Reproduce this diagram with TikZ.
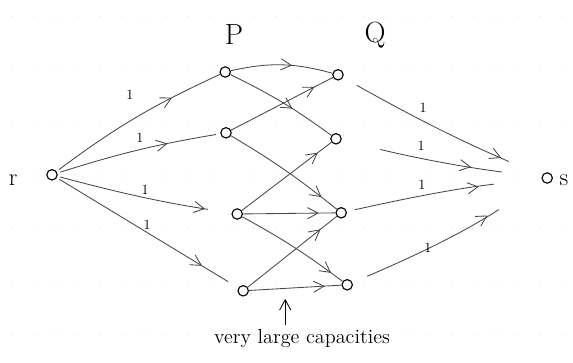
\documentclass[tikz,border=0pt]{standalone}
\usepackage{tikz}
\usetikzlibrary{arrows.meta,decorations.markings}
\definecolor{pencil}{RGB}{70,70,70}
\definecolor{paperdot}{RGB}{175,175,175}
\tikzset{
  vtx/.style={circle, draw=black, thick, inner sep=0pt, minimum size=2.6mm},
  side/.style={font=\LARGE, inner sep=1pt},
  layer/.style={font=\huge, inner sep=1pt},
  capnum/.style={font=\normalsize, inner sep=1pt},
  wire/.style={draw=pencil, semithick},
  tipat/.style={postaction={decorate}, decoration={markings,
      mark=at position #1 with {\arrow{Straight Barb[length=2.6mm,width=2.8mm]}}}},
}

\begin{document}
\begin{tikzpicture}
    \useasboundingbox (0,0) rectangle (14.325,9.05);
    % --- the dotted notebook paper ---
    \foreach \y in {0.68,2.0,3.33,4.65,5.98,7.3,8.63}
      \foreach \x in {0.3,0.85,...,14.2}
        \fill[paperdot] (\x,\y) circle (0.25pt);
    % --- source, sink and the two layers ---
    \node[vtx] (r) at (1.30,4.68) {};
    \node[side] (rlab) at (0.33,4.55) {r};
    \node[vtx] (s) at (13.68,4.60) {};
    \node[side] (slab) at (14.10,4.55) {s};
    \node[layer] (plab) at (5.85,8.18) {P};
    \node[layer] (qlab) at (9.38,8.18) {Q};
    \node[vtx] (p1) at (5.63,7.25) {};
    \node[vtx] (p2) at (5.65,5.73) {};
    \node[vtx] (p3) at (5.93,3.70) {};
    \node[vtx] (p4) at (6.08,1.78) {};
    \node[vtx] (q1) at (8.45,7.18) {};
    \node[vtx] (q2) at (8.40,5.58) {};
    \node[vtx] (q3) at (8.53,3.73) {};
    \node[vtx] (q4) at (8.68,1.93) {};
    % --- r into P, capacity 1 ---
    \draw[wire,tipat=0.72,shorten <=2pt] (r) to[bend left=6] (p1);
    \draw[wire,tipat=0.68,shorten <=2pt,shorten >=3pt] (r) to[bend left=4] (p2);
    \draw[wire,tipat=0.85,shorten <=2pt,shorten >=0.6cm] (r) to[bend right=3] (p3);
    \draw[wire,tipat=0.8,shorten <=2pt,shorten >=0.3cm] (r) to (p4);
    \node[capnum] (c1) at (3.25,6.68) {1};
    \node[capnum] (c2) at (3.50,5.60) {1};
    \node[capnum] (c3) at (3.63,4.30) {1};
    \node[capnum] (c4) at (3.68,3.43) {1};
    % --- P into Q ---
    \draw[wire,tipat=0.6] (p1) to[bend left=14] (q1);
    \draw[wire,tipat=0.6] (p1) to[bend left=5] (q2);
    \draw[wire,tipat=0.82] (p2) -- (q1);
    \draw[wire,tipat=0.85] (p2) to[bend left=4] (q3);
    \draw[wire,tipat=0.85] (p3) -- (q2);
    \draw[wire,tipat=0.82] (p3) -- (q3);
    \draw[wire,tipat=0.88] (p3) to[bend left=4] (q4);
    \draw[wire,tipat=0.82] (p4) -- (q3);
    \draw[wire,tipat=0.82] (p4) -- (q4);
    % --- Q into s, capacity 1 ---
    \draw[wire,tipat=0.8,shorten <=0.4cm,shorten >=0.9cm] (q1) to[bend right=3] (s);
    \draw[wire,tipat=0.65,shorten <=1.0cm,shorten >=1.0cm] (q2) to[bend right=3] (s);
    \draw[wire,tipat=0.68,shorten <=0.2cm,shorten >=1.2cm] (q3) to[bend left=3] (s);
    \draw[wire,tipat=0.7,shorten <=0.4cm,shorten >=1.3cm] (q4) to[bend right=5] (s);
    \node[capnum] (c5) at (10.58,6.35) {1};
    \node[capnum] (c6) at (10.53,5.40) {1};
    \node[capnum] (c7) at (10.55,4.43) {1};
    \node[capnum] (c8) at (10.70,2.85) {1};
    % --- the note below ---
    \node[font=\Large] (note) at (7.55,0.58) {very large capacities};
    \coordinate (tip) at (7.13,1.58);
    \draw[-{Straight Barb[length=2.6mm,width=2.8mm]},semithick] (tip |- note.north) -- (tip);
\end{tikzpicture}
\end{document}
